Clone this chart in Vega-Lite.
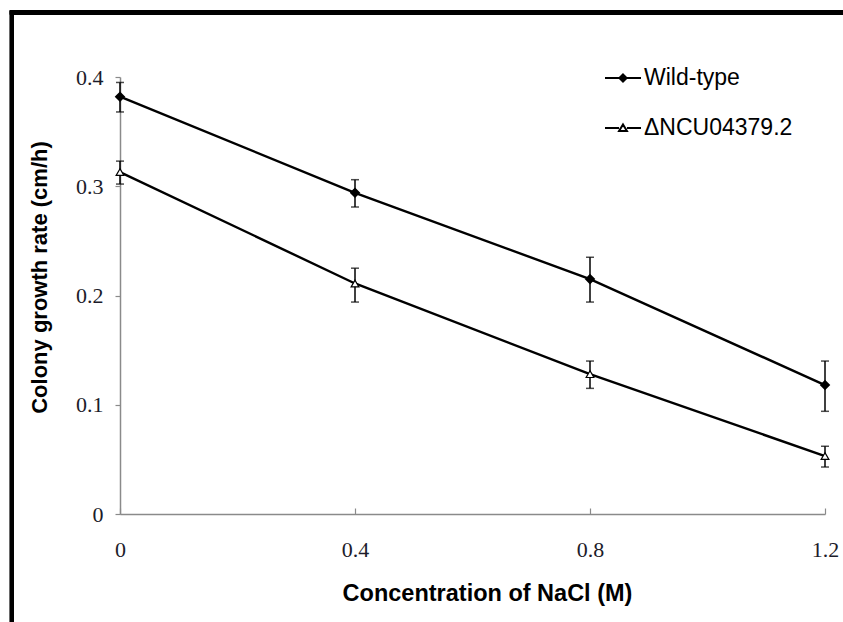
{
  "$schema": "https://vega.github.io/schema/vega-lite/v6.json",
  "width": 705,
  "height": 437,
  "autosize": {"type": "none"},
  "padding": {"left": 120, "top": 77, "right": 18, "bottom": 108},
  "background": "white",
  "config": {
    "view": {"stroke": null},
    "axis": {
      "grid": false,
      "domainColor": "#8a8a8a",
      "domainWidth": 1.5,
      "tickColor": "#8a8a8a",
      "tickWidth": 1.2,
      "labelFont": "Liberation Serif",
      "labelFontSize": 22,
      "labelColor": "#1c1c2a",
      "labelFlush": false,
      "titleFont": "Liberation Sans",
      "titleFontSize": 23.5,
      "titleFontWeight": "bold",
      "titleColor": "black"
    },
    "legend": {
      "labelFont": "Liberation Sans",
      "labelFontSize": 23,
      "labelColor": "black",
      "padding": 0
    }
  },
  "data": {
    "values": [
      {"series": "Wild-type", "conc": 0, "rate": 0.382, "lo": 0.368, "hi": 0.395},
      {"series": "Wild-type", "conc": 0.4, "rate": 0.294, "lo": 0.281, "hi": 0.306},
      {"series": "Wild-type", "conc": 0.8, "rate": 0.215, "lo": 0.194, "hi": 0.235},
      {"series": "Wild-type", "conc": 1.2, "rate": 0.118, "lo": 0.094, "hi": 0.140},
      {"series": "ΔNCU04379.2", "conc": 0, "rate": 0.313, "lo": 0.302, "hi": 0.323},
      {"series": "ΔNCU04379.2", "conc": 0.4, "rate": 0.211, "lo": 0.194, "hi": 0.225},
      {"series": "ΔNCU04379.2", "conc": 0.8, "rate": 0.128, "lo": 0.115, "hi": 0.140},
      {"series": "ΔNCU04379.2", "conc": 1.2, "rate": 0.053, "lo": 0.043, "hi": 0.062}
    ]
  },
  "encoding": {
    "x": {
      "field": "conc", "type": "quantitative",
      "scale": {"domain": [0, 1.2], "nice": false, "zero": false},
      "axis": {
        "values": [0, 0.4, 0.8, 1.2], "format": "~g",
        "title": "Concentration of NaCl (M)",
        "tickSize": -6, "labelPadding": 31, "titlePadding": 21,
        "titleX": 367
      }
    }
  },
  "layer": [
    {
      "mark": {"type": "rule", "stroke": "black", "strokeWidth": 4, "strokeCap": "square"},
      "encoding": {
        "x": {"datum": -0.184},
        "y": {"datum": 0.459},
        "y2": {"datum": -0.25}
      }
    },
    {
      "mark": {"type": "rule", "stroke": "black", "strokeWidth": 4, "strokeCap": "square"},
      "encoding": {
        "x": {"datum": -0.184},
        "x2": {"datum": 1.45},
        "y": {"datum": 0.459}
      }
    },
    {
      "mark": {"type": "rule", "stroke": "black", "strokeWidth": 1.5},
      "encoding": {
        "y": {
          "field": "lo", "type": "quantitative",
          "scale": {"domain": [0, 0.4], "nice": false},
          "axis": {
            "values": [0, 0.1, 0.2, 0.3, 0.4], "format": "~g",
            "title": "Colony growth rate (cm/h)",
            "titleFontSize": 22,
            "tickSize": 5, "labelPadding": 12, "titlePadding": 24,
            "titleY": 200
          }
        },
        "y2": {"field": "hi"}
      }
    },
    {
      "mark": {"type": "tick", "color": "black", "size": 8, "thickness": 1.5, "orient": "horizontal"},
      "encoding": {"y": {"field": "lo", "type": "quantitative"}}
    },
    {
      "mark": {"type": "tick", "color": "black", "size": 8, "thickness": 1.5, "orient": "horizontal"},
      "encoding": {"y": {"field": "hi", "type": "quantitative"}}
    },
    {
      "mark": {"type": "line", "stroke": "black", "strokeWidth": 2.4},
      "encoding": {
        "y": {"field": "rate", "type": "quantitative"},
        "detail": {"field": "series"}
      }
    },
    {
      "transform": [{"filter": "datum.series === 'Wild-type'"}],
      "mark": {"type": "point", "shape": "diamond", "filled": true, "fill": "black", "stroke": "black", "size": 60, "opacity": 1},
      "encoding": {"y": {"field": "rate", "type": "quantitative"}}
    },
    {
      "transform": [{"filter": "datum.series !== 'Wild-type'"}],
      "mark": {"type": "point", "shape": "triangle-up", "filled": true, "fill": "white", "stroke": "black", "strokeWidth": 1.2, "size": 60, "opacity": 1},
      "encoding": {"y": {"field": "rate", "type": "quantitative"}}
    },
    {
      "mark": {"type": "point", "filled": true, "stroke": "black", "opacity": 0},
      "encoding": {
        "y": {"field": "rate", "type": "quantitative"},
        "shape": {
          "field": "series", "type": "nominal",
          "scale": {
            "domain": ["Wild-type", "ΔNCU04379.2"],
            "range": [
              "M-1,0H1M0,-0.2L0.2,0L0,0.2L-0.2,0Z",
              "M-1,0H-0.22M0.22,0H1M0,-0.2L0.22,0.17L-0.22,0.17Z"
            ]
          },
          "legend": {
            "title": null, "orient": "none", "legendX": 484, "legendY": -18,
            "symbolSize": 1296, "symbolStrokeWidth": 2, "symbolStrokeColor": "black",
            "rowPadding": 19, "labelOffset": 2,
            "encode": {"symbols": {"update": {"opacity": {"value": 1}, "stroke": {"value": "black"}}}}
          }
        },
        "fill": {
          "field": "series", "type": "nominal",
          "scale": {"domain": ["Wild-type", "ΔNCU04379.2"], "range": ["black", "white"]},
          "legend": {
            "title": null, "orient": "none", "legendX": 484, "legendY": -18,
            "symbolSize": 1296, "symbolStrokeWidth": 2, "symbolStrokeColor": "black",
            "rowPadding": 19, "labelOffset": 2,
            "encode": {"symbols": {"update": {"opacity": {"value": 1}, "stroke": {"value": "black"}}}}
          }
        }
      }
    }
  ]
}
